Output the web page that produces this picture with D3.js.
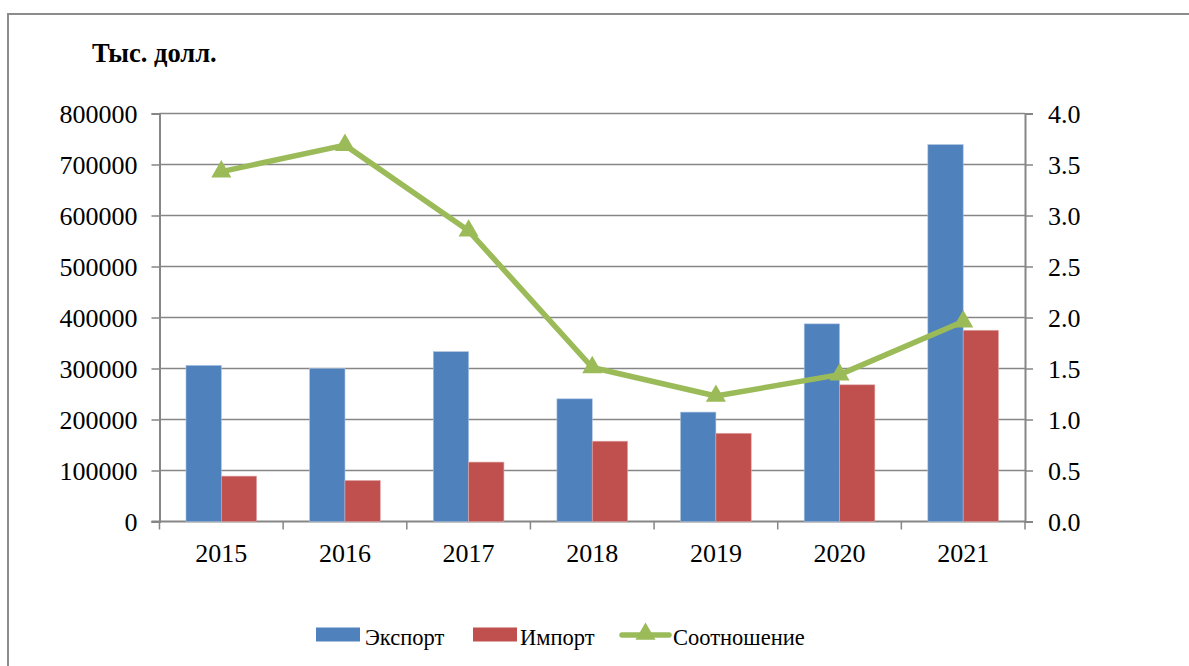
<!DOCTYPE html>
<html>
<head>
<meta charset="utf-8">
<script src="https://cdn.jsdelivr.net/npm/d3@7"></script>
<style>
  body { margin: 0; background: #fff; }
</style>
</head>
<body>
<div id="chart"></div>
<script>
// Chart data
var years = ["2015", "2016", "2017", "2018", "2019", "2020", "2021"];
var exportValues = [306000, 300000, 333000, 240500, 214500, 387500, 739000];
var importValues = [89000, 80500, 116500, 157500, 173000, 268000, 375000];
var ratioValues = [3.43, 3.69, 2.85, 1.51, 1.23, 1.44, 1.96];
var seriesNames = ["Экспорт", "Импорт", "Соотношение"];
var leftTicks = [0, 100000, 200000, 300000, 400000, 500000, 600000, 700000, 800000];
var rightTicks = [0, 0.5, 1, 1.5, 2, 2.5, 3, 3.5, 4];

var width = 1189;
var height = 666;
var plot = { left: 159.5, right: 1025, top: 113.5, bottom: 521.5 };
var serif = "'Liberation Serif', 'Times New Roman', Times, serif";

var colors = { exp: "#4F81BD", imp: "#C0504D", ratio: "#9BBB59", grid: "#868686" };

var svg = d3.select("#chart").append("svg")
  .attr("width", width)
  .attr("height", height)
  .attr("font-family", serif);

// outer frame
svg.append("rect")
  .attr("x", 8).attr("y", 14)
  .attr("width", width + 10).attr("height", height + 10)
  .attr("fill", "none")
  .attr("stroke", "#8c8c8c")
  .attr("stroke-width", 2);

var x = d3.scaleBand().domain(years).range([plot.left, plot.right]).padding(0);
var bw = x.bandwidth();
var barW = bw / 3.5; // gap width 150%
var x1 = d3.scaleBand().domain([0, 1]).range([bw / 2 - barW, bw / 2 + barW]);

var y = d3.scaleLinear().domain([0, 800000]).range([plot.bottom, plot.top]);
var y2 = d3.scaleLinear().domain([0, 4]).range([plot.bottom, plot.top]);

// gridlines
svg.append("g").selectAll("line")
  .data(leftTicks.slice(1))
  .enter().append("line")
  .attr("x1", plot.left).attr("x2", plot.right)
  .attr("y1", d => y(d)).attr("y2", d => y(d))
  .attr("stroke", colors.grid)
  .attr("stroke-width", 1.5);

// left axis
var leftAxis = svg.append("g")
  .attr("transform", "translate(" + plot.left + ",0)")
  .call(d3.axisLeft(y).tickValues(leftTicks).tickSize(8).tickPadding(14).tickFormat(d3.format("d")));

// right axis
var rightAxis = svg.append("g")
  .attr("transform", "translate(" + plot.right + ",0)")
  .call(d3.axisRight(y2).tickValues(rightTicks).tickSize(8).tickPadding(15).tickFormat(d3.format(".1f")));

[leftAxis, rightAxis].forEach(function(a) {
  a.attr("font-family", serif).attr("font-size", 26);
  a.select(".domain").attr("stroke", colors.grid).attr("stroke-width", 2);
  a.selectAll(".tick line").attr("stroke", colors.grid).attr("stroke-width", 1.5);
  a.selectAll("text")
    .attr("fill", "#000")
    .attr("dy", "0.34em")
    .style("font-family", serif)
    .style("font-size", "26px");
});

// bottom axis
var xAxis = svg.append("g");
xAxis.append("line")
  .attr("x1", plot.left - 8).attr("x2", plot.right)
  .attr("y1", plot.bottom).attr("y2", plot.bottom)
  .attr("stroke", colors.grid).attr("stroke-width", 2);
xAxis.selectAll(".xt")
  .data(years.concat(["end"]))
  .enter().append("line")
  .attr("x1", (d, i) => i < years.length ? x(d) : plot.right)
  .attr("x2", (d, i) => i < years.length ? x(d) : plot.right)
  .attr("y1", plot.bottom).attr("y2", plot.bottom + 8)
  .attr("stroke", colors.grid).attr("stroke-width", 1.5);
xAxis.selectAll("text")
  .data(years)
  .enter().append("text")
  .attr("x", d => x(d) + bw / 2)
  .attr("y", 562)
  .attr("text-anchor", "middle")
  .style("font-family", serif)
  .style("font-size", "26px")
  .text(d => d);

// bars
var groups = svg.append("g").selectAll("g")
  .data(years)
  .enter().append("g")
  .attr("transform", d => "translate(" + x(d) + ",0)");

groups.append("rect")
  .attr("x", x1(0))
  .attr("width", x1.bandwidth())
  .attr("y", (d, i) => y(exportValues[i]))
  .attr("height", (d, i) => plot.bottom - y(exportValues[i]))
  .attr("fill", colors.exp)
  .attr("stroke", "#a9c0de").attr("stroke-width", 0.6);

groups.append("rect")
  .attr("x", x1(1))
  .attr("width", x1.bandwidth())
  .attr("y", (d, i) => y(importValues[i]))
  .attr("height", (d, i) => plot.bottom - y(importValues[i]))
  .attr("fill", colors.imp)
  .attr("stroke", "#e0a9a8").attr("stroke-width", 0.6);

// ratio line
var line = d3.line()
  .x((d, i) => x(years[i]) + bw / 2)
  .y(d => y2(d));

svg.append("path")
  .datum(ratioValues)
  .attr("d", line)
  .attr("fill", "none")
  .attr("stroke", colors.ratio)
  .attr("stroke-width", 5.5)
  .attr("stroke-linejoin", "round");

var tri = d3.symbol().type(d3.symbolTriangle).size(175);
svg.append("g").selectAll("path")
  .data(ratioValues)
  .enter().append("path")
  .attr("d", tri)
  .attr("transform", (d, i) => "translate(" + (x(years[i]) + bw / 2) + "," + y2(d) + ")")
  .attr("fill", colors.ratio);

// title
svg.append("text")
  .attr("x", 92).attr("y", 62)
  .style("font-family", serif)
  .style("font-size", "26.5px")
  .style("font-weight", "bold")
  .text("Тыс. долл.");

// legend
var legend = svg.append("g").style("font-family", serif).style("font-size", "22.5px");
legend.append("rect").attr("x", 316).attr("y", 627.5).attr("width", 44).attr("height", 14).attr("fill", colors.exp);
legend.append("text").attr("x", 365).attr("y", 645).text(seriesNames[0]);
legend.append("rect").attr("x", 473).attr("y", 627.5).attr("width", 44).attr("height", 14).attr("fill", colors.imp);
legend.append("text").attr("x", 520).attr("y", 645).text(seriesNames[1]);
legend.append("line").attr("x1", 622).attr("x2", 669).attr("y1", 635).attr("y2", 635)
  .attr("stroke", colors.ratio).attr("stroke-width", 5.5).attr("stroke-linecap", "round");
legend.append("path").attr("d", tri).attr("transform", "translate(645.5,634)").attr("fill", colors.ratio);
legend.append("text").attr("x", 673).attr("y", 645).text(seriesNames[2]);
</script>
</body>
</html>
